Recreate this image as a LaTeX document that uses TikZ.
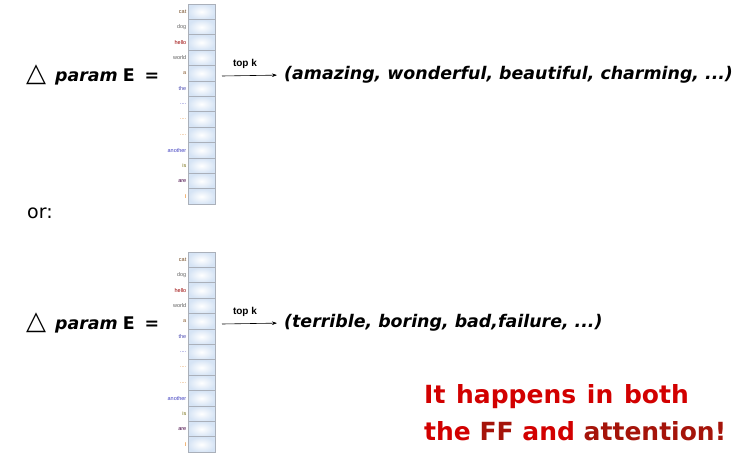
\documentclass[tikz,border=0pt]{standalone}
\usepackage{fontspec}
\usetikzlibrary{arrows.meta}
\setmainfont{DejaVu Sans}
\newfontfamily\armfont{Liberation Sans}
\definecolor{cellblue}{RGB}{214,228,245}
\definecolor{cellline}{RGB}{170,176,186}
\definecolor{hotred}{RGB}{210,0,0}
\definecolor{deepred}{RGB}{165,20,10}
\newcommand{\deltasym}{{\fontsize{26}{26}\selectfont △}}
\begin{document}
\begin{tikzpicture}[x=1pt,y=-1pt,
  cell/.style={draw=cellline, line width=0.8pt, inner color=white, outer color=cellblue,
    minimum width=27pt, minimum height=15.4pt, inner sep=0pt, outer sep=0pt},
  wlabel/.style={anchor=east, font=\armfont\fontsize{5.5}{6}\selectfont, inner sep=1.5pt},
  bigtxt/.style={anchor=west, inner sep=0pt, font=\bfseries\fontsize{17.4}{20}\selectfont},
  arr/.style={-{Stealth[length=5pt,width=3.5pt]}, line width=0.6pt},
  topk/.style={font=\armfont\bfseries\fontsize{10}{11}\selectfont, inner sep=0pt},
  redtxt/.style={anchor=west, align=left, inner sep=0pt, font=\bfseries\fontsize{25}{37}\selectfont}]
\useasboundingbox (0,0) rectangle (749,463);
\foreach \col/\ytop in {a/4, b/252} {
  \foreach \i in {0,1,2,3,4,5,6,7,8,9,10,11,12} {
    \node[cell] (\col\i) at (201.5, \ytop+7.7+15.4*\i) {};
  }
  \node[wlabel, text=brown!60!black] at (\col0.west) {cat};
  \node[wlabel, text=gray!80!black] at (\col1.west) {dog};
  \node[wlabel, text=red!60!black] at (\col2.west) {hello};
  \node[wlabel, text=gray!70!black] at (\col3.west) {world};
  \node[wlabel, text=brown!70!black] at (\col4.west) {a};
  \node[wlabel, text=blue!40!gray] at (\col5.west) {the};
  \node[wlabel, text=blue!50!gray] at (\col6.west) {....};
  \node[wlabel, text=orange!70!gray] at (\col7.west) {....};
  \node[wlabel, text=orange!70!gray] at (\col8.west) {....};
  \node[wlabel, text=blue!50!gray] at (\col9.west) {another};
  \node[wlabel, text=olive!80!black] at (\col10.west) {is};
  \node[wlabel, text=violet!50!black] at (\col11.west) {are};
  \node[wlabel, text=orange!90!black] at (\col12.west) {I};
}
% first line
\node[bigtxt] (d1) at (26,75) {\deltasym\hspace{9pt}\textit{param}\hspace{5pt}E\hspace{10pt}=};
\coordinate (s1) at (222,76);
\node[bigtxt] (l1) at (284,75) {\textit{(amazing, wonderful, beautiful, charming, ...)}};
\draw[arr, shorten >=7pt] (s1) -- (l1.west) node[topk, pos=0.37, above=7pt] {top k};
% or
\node[anchor=west, inner sep=0pt, font=\fontsize{19}{22}\selectfont] (or) at (27,213) {or:};
% second line
\node[bigtxt] (d2) at (26,323) {\deltasym\hspace{9pt}\textit{param}\hspace{5pt}E\hspace{10pt}=};
\coordinate (s2) at (222,324);
\node[bigtxt] (l2) at (284,323) {\textit{(terrible, boring, bad,failure, ...)}};
\draw[arr, shorten >=7pt] (s2) -- (l2.west) node[topk, pos=0.37, above=7pt] {top k};
% red text
\node[redtxt] (r) at (424,413) {\textcolor{hotred}{It\hspace{2pt} happens\hspace{2pt} in\hspace{2pt} both}\\
  \textcolor{hotred}{the} \textcolor{deepred}{FF} \textcolor{hotred}{and} \textcolor{deepred}{attention!}};
\end{tikzpicture}
\end{document}
